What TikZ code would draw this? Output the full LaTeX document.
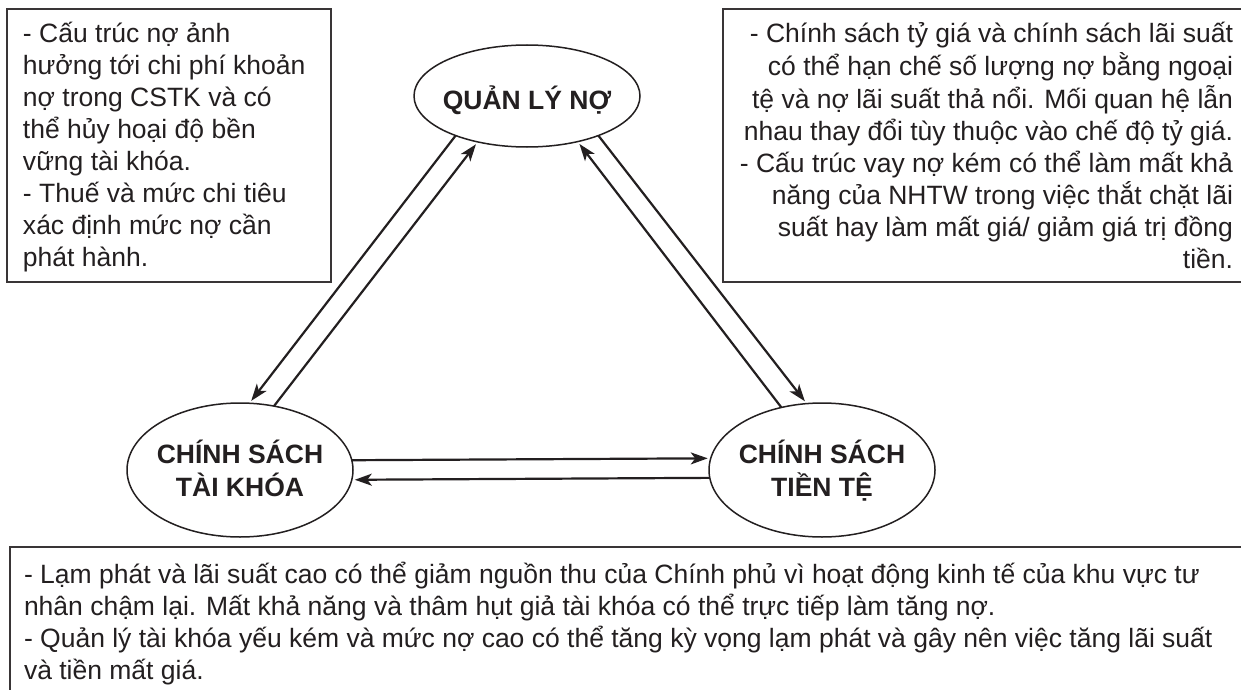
\documentclass[tikz,border=0pt]{standalone}
\usepackage{fontspec}
\setmainfont{Liberation Sans}
\usetikzlibrary{shapes.geometric,arrows.meta}
\definecolor{ink}{RGB}{35,31,32}
\newcommand{\mlines}[2]{\begin{tabular}[t]{@{}#1@{}}#2\end{tabular}}
\begin{document}
\begin{tikzpicture}[x=1pt,y=-1pt,
  boxline/.style={draw=ink!90, line width=1.3pt},
  txt/.style={inner sep=0pt, outer sep=0pt, text=ink, font=\fontsize{26.5}{32}\selectfont},
  ell/.style={ellipse, draw=ink, line width=1.5pt, inner sep=0pt, outer sep=0pt,
    minimum width=226pt, text=ink, font=\bfseries\fontsize{26.5}{32}\selectfont},
  arr/.style={draw=ink, line width=2.2pt, -{Stealth[length=17pt,width=12pt,inset=4.5pt]}, shorten >=3pt}
]
\useasboundingbox (0,0) rectangle (1241,690);
\fill[white] (0,0) rectangle (1241,690);

% text boxes
\draw[boxline] (7,9) rectangle (331,282);
\draw[boxline] (1245,9) -| (723,282) -- (1245,282);
\draw[boxline] (1245,547) -| (10,695);

\node[txt, anchor=base west] (lefttext) at (23,43) {\mlines{l}{%
- Cấu trúc nợ ảnh\\
hưởng tới chi phí khoản\\
nợ trong CSTK và có\\
thể hủy hoại độ bền\\
vững tài khóa.\\
- Thuế và mức chi tiêu\\
xác định mức nợ cần\\
phát hành.}};

\node[txt, anchor=base east] (righttext) at (1233,43) {\mlines{r}{%
- Chính sách tỷ giá và chính sách lãi suất\\
có thể hạn chế số lượng nợ bằng ngoại\\
tệ và nợ lãi suất thả nổi. Mối quan hệ lẫn\\
nhau thay đổi tùy thuộc vào chế độ tỷ giá.\\
- Cấu trúc vay nợ kém có thể làm mất khả\\
năng của NHTW trong việc thắt chặt lãi\\
suất hay làm mất giá/ giảm giá trị đồng\\
tiền.}};

\node[txt, anchor=base west] (bottomtext) at (24,583) {\mlines{l}{%
- Lạm phát và lãi suất cao có thể giảm nguồn thu của Chính phủ vì hoạt động kinh tế của khu vực tư\\
nhân chậm lại. Mất khả năng và thâm hụt giả tài khóa có thể trực tiếp làm tăng nợ.\\
- Quản lý tài khóa yếu kém và mức nợ cao có thể tăng kỳ vọng lạm phát và gây nên việc tăng lãi suất\\
và tiền mất giá.}};

% ellipses
\node[ell, minimum height=102pt, text height=30pt, text depth=2pt] (qln) at (527,96)
  {\makebox[0pt]{QUẢN LÝ NỢ}};
\node[ell, minimum height=134pt, text height=22.4pt, text depth=36.4pt] (cstk) at (240,470)
  {\makebox[0pt]{\mlines{c}{CHÍNH SÁCH\\TÀI KHÓA}}};
\node[ell, minimum height=134pt, text height=22.4pt, text depth=36.4pt] (cstt) at (822,470)
  {\makebox[0pt]{\mlines{c}{CHÍNH SÁCH\\TIỀN TỆ}}};

% connectors
\draw[arr] (qln.209) -- (cstk.82);
\draw[arr] (cstk.62) -- (qln.223);
\draw[arr] (qln.331) -- (cstt.103);
\draw[arr] (cstt.123) -- (qln.318);
\draw[arr] (cstk.5.6) -- (cstt.174.4);
\draw[arr] (cstt.184.1) -- (cstk.355.9);
\end{tikzpicture}
\end{document}
